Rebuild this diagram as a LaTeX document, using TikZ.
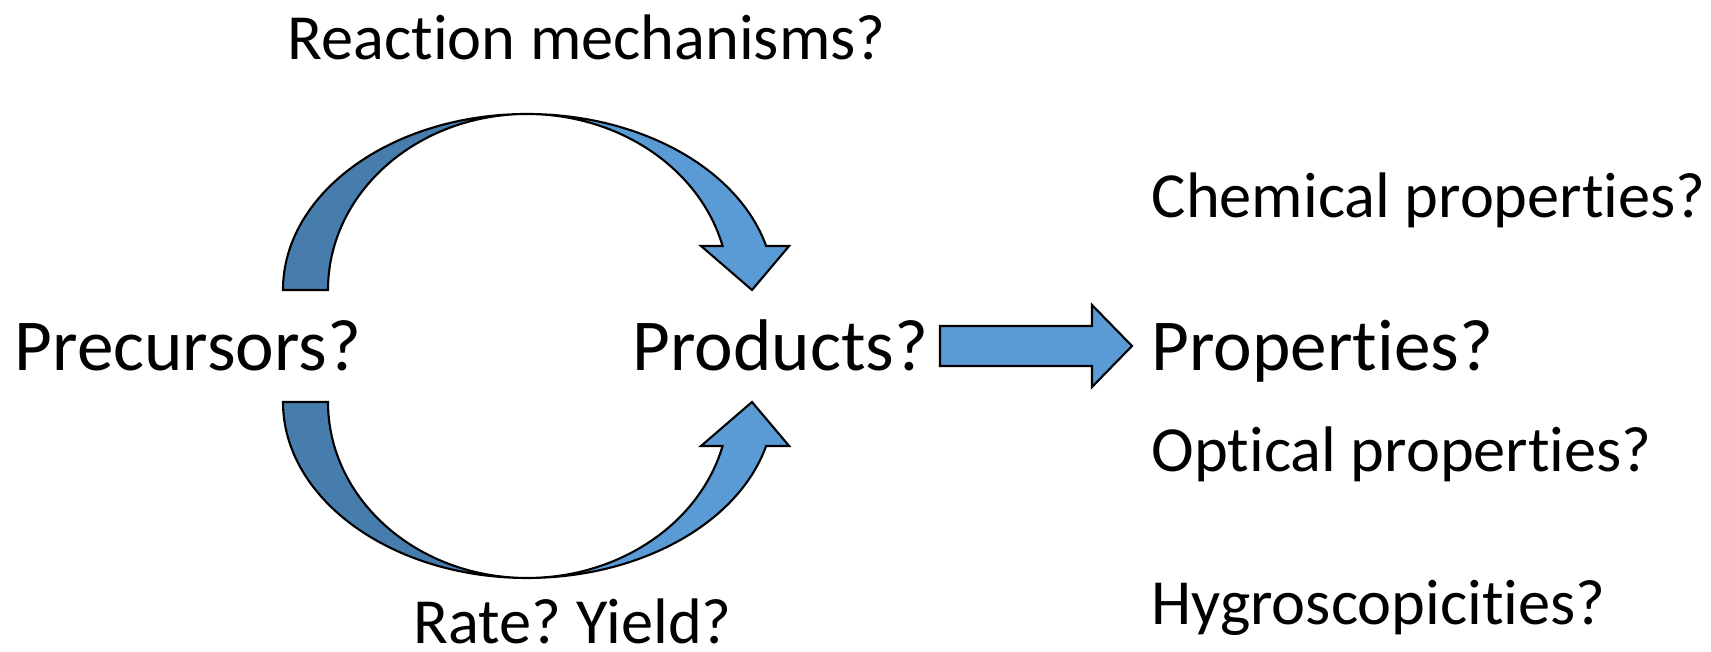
\documentclass[tikz,border=0pt]{standalone}
\usepackage{fontspec}
\setmainfont{Carlito}[Ligatures=NoCommon]
\usetikzlibrary{positioning,calc}
\definecolor{arrlight}{RGB}{91,155,213}
\definecolor{arrdark}{RGB}{71,125,172}
\frenchspacing
\tikzset{
    %Define style for labels
    lbl/.style={
           anchor=base west,
           inner sep=0pt,
           font=\fontsize{18.3}{22}\selectfont},
    biglbl/.style={
           lbl,
           font=\fontsize{20.8}{25}\selectfont},
    % Define style for block arrows
    blk/.style={
           draw=black,
           line width=0.6pt}
}
\begin{document}
\begin{tikzpicture}[x=0.01cm,y=0.01cm]
\useasboundingbox (0,0) rectangle (1711,652);
 %nodes
\node[biglbl](prec) at (14,281){Precursors?};
\node[biglbl](prod) at (632,281){Products?};
\node[biglbl](prop) at (1151,281){Properties?};
\node[lbl](mech) at (287,592){Reaction mechanisms?};
\node[lbl](rate) at (413,8){Rate? Yield?};
\node[lbl](chem) at (1151,434){Chemical properties?};
\node[lbl](opt) at (1151,180){Optical properties?};
\node[lbl](hyg) at (1151,27){Hygroscopicities?};

 %curved arrows
\coordinate (up) at (527,362);
\coordinate (dn) at (527,250);
\path[blk,fill=arrdark] ($(up)+(-244,0)$)
    arc[start angle=180,end angle=90,x radius=244,y radius=176]
    arc[start angle=90,end angle=180,x radius=199,y radius=176] -- cycle;
\path[blk,fill=arrlight] ($(up)+(0,176)$)
    arc[start angle=90,end angle=14.48,x radius=247,y radius=176]
    -- ++(23,0) -- ($(up)+(225,0)$) -- ($(up)+(174,44)$) -- ($(up)+(195.6,44)$)
    arc[start angle=14.48,end angle=90,x radius=202,y radius=176] -- cycle;
\path[blk,fill=arrdark] ($(dn)+(-244,0)$)
    arc[start angle=180,end angle=270,x radius=244,y radius=176]
    arc[start angle=270,end angle=180,x radius=199,y radius=176] -- cycle;
\path[blk,fill=arrlight] ($(dn)+(0,-176)$)
    arc[start angle=270,end angle=345.52,x radius=247,y radius=176]
    -- ++(23,0) -- ($(dn)+(225,0)$) -- ($(dn)+(174,-44)$) -- ($(dn)+(195.6,-44)$)
    arc[start angle=345.52,end angle=270,x radius=202,y radius=176] -- cycle;

 %straight arrow
\coordinate (s) at (940,306);
\path[blk,fill=arrlight] (s) ++(0,20) -- ++(152,0) -- ++(0,21) -- ++(40,-41)
    -- ++(-40,-41) -- ++(0,21) -- ++(-152,0) -- cycle;

\end{tikzpicture}
\end{document}
